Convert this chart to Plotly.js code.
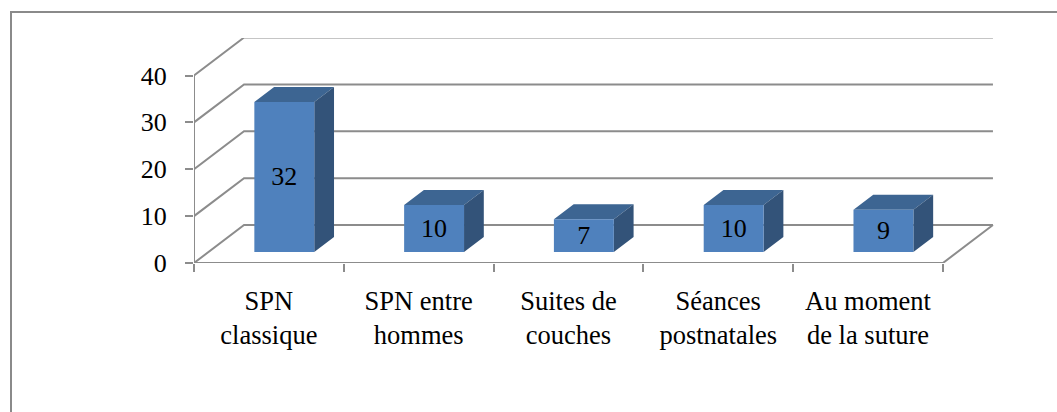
<!DOCTYPE html>
<html><head><meta charset="utf-8">
<script src="https://cdn.plot.ly/plotly-3.0.1.min.js"></script>
<style>
html,body{margin:0;padding:0;background:#fff;overflow:hidden}
#frame{position:absolute;left:10px;top:11px;width:1060px;height:420px;border-top:2px solid #8a8a8a;border-left:2px solid #8a8a8a;box-sizing:border-box}
#chart{position:absolute;left:0;top:0.6px;width:1057px;height:412px}
</style></head><body>
<div id="chart"></div><div id="frame"></div>
<script>
const categories = ["SPN<br>classique","SPN entre<br>hommes","Suites de<br>couches","Séances<br>postnatales","Au moment<br>de la suture"];
const values = [32,10,7,10,9];
const yTicks = [0,10,20,30,40];

// oblique projection of the chart's depth, in axis units
const depthX = 0.334, depthY = 8.1;
const barWidth = 0.4, barDepth = 0.395, barInset = 0.29, barNudge = 0.006;
const xStart = -0.5, xEnd = categories.length - 0.5;
const FONT = "Liberation Serif, Times New Roman, serif";
const LINE = "#8c8c8c";

const gridX = [], gridY = [];
yTicks.forEach(v => {
  gridX.push(xStart, xStart + depthX, xEnd + depthX, null);
  gridY.push(v, v + depthY, v + depthY, null);
});
gridX.push(xStart, xStart, null, xStart, xEnd, xEnd + depthX);
gridY.push(0, yTicks[yTicks.length-1], null, 0, 0, depthY);

const lift = barInset * depthY, shift = barInset * depthX + barNudge;
const topX = [], topY = [], sideX = [], sideY = [];
values.forEach((v, i) => {
  const l = i + shift - barWidth/2, r = l + barWidth, b = lift, t = lift + v;
  const ox = barDepth * depthX, oy = barDepth * depthY;
  topX.push(l, r, r + ox, l + ox, l, null);
  topY.push(t, t, t + oy, t + oy, t, null);
  sideX.push(r, r + ox, r + ox, r, r, null);
  sideY.push(b, b + oy, t + oy, t, b, null);
});

const data = [
  {type:"scatter",mode:"lines",x:gridX,y:gridY,xaxis:"x",yaxis:"y",cliponaxis:false,
   line:{color:LINE,width:2},hoverinfo:"skip",showlegend:false,connectgaps:false},
  {type:"scatter",mode:"lines",x:topX,y:topY,xaxis:"x",yaxis:"y",fill:"toself",fillcolor:"#3d6592",
   line:{width:0,color:"#3d6592"},hoverinfo:"skip",showlegend:false,cliponaxis:false},
  {type:"scatter",mode:"lines",x:sideX,y:sideY,xaxis:"x",yaxis:"y",fill:"toself",fillcolor:"#335379",
   line:{width:0,color:"#335379"},hoverinfo:"skip",showlegend:false,cliponaxis:false},
  {type:"bar",x:categories,y:values,base:values.map(()=>lift),xaxis:"x2",yaxis:"y",
   width:barWidth,offset:shift-barWidth/2,
   marker:{color:"#4f81bd",line:{width:0}},
   text:values.map(String),textposition:"inside",insidetextanchor:"middle",textangle:0,constraintext:"none",
   textfont:{family:FONT,size:26,color:"#000"},showlegend:false,cliponaxis:false}
];

const layout = {
  width:1057,height:412,
  margin:{l:194,r:63,t:37,b:149.5,pad:0},
  paper_bgcolor:"rgba(0,0,0,0)",plot_bgcolor:"rgba(0,0,0,0)",
  showlegend:false,
  xaxis:{type:"linear",range:[xStart,4.841],showgrid:false,zeroline:false,showline:false,showticklabels:false,ticks:""},
  xaxis2:{type:"category",overlaying:"x",anchor:"y",side:"bottom",categoryorder:"array",categoryarray:categories,
    range:[xStart,4.841],tickson:"boundaries",ticks:"outside",ticklen:8,tickwidth:2,tickcolor:LINE,
    showgrid:false,zeroline:false,showline:false,tickangle:0,ticklabelstandoff:19,
    tickfont:{family:FONT,size:26.5,color:"#000"}},
  yaxis:{range:[0,48],tickmode:"array",tickvals:yTicks,ticktext:yTicks.map(String),ticks:"outside",ticklen:8,tickwidth:2,
    tickcolor:LINE,showgrid:false,zeroline:false,showline:false,ticklabelstandoff:13,
    tickfont:{family:FONT,size:26,color:"#000"}}
};
Plotly.newPlot("chart",data,layout,{displayModeBar:false,staticPlot:true});
</script></body></html>
